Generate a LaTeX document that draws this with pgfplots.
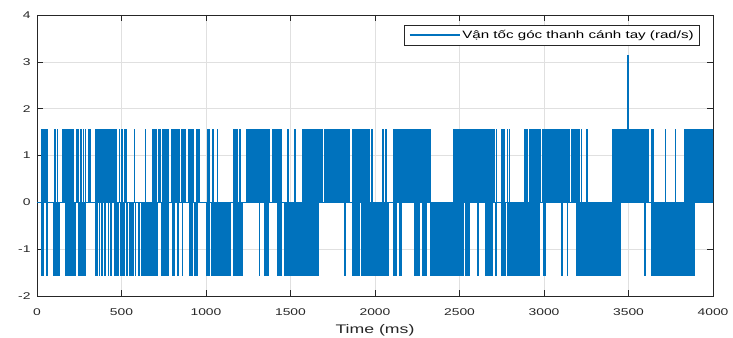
\documentclass[border=0pt]{standalone}
\usepackage{fontspec}
\setmainfont{Liberation Sans}[FakeStretch=1.42]
\usepackage{pgfplots}
\usepackage{pgfplotstable}
\pgfplotsset{compat=1.18}
\usetikzlibrary{calc}
\definecolor{mblue}{RGB}{0,114,189}
\definecolor{axc}{RGB}{38,38,38}

% positive spikes (+pi/2)
\pgfplotstableread[row sep=\\]{
t v\\
30 1.5708\\ 35 1.5708\\ 43 1.5708\\ 53 1.5708\\ 61 1.5708\\ 108 1.5708\\ 122 1.5708\\ 154 1.5708\\ 164 1.5708\\ 178 1.5708\\
187 1.5708\\ 197 1.5708\\ 207 1.5708\\ 217 1.5708\\ 233 1.5708\\ 244 1.5708\\ 262 1.5708\\ 276 1.5708\\ 286 1.5708\\ 306 1.5708\\ 316 1.5708\\
345 1.5708\\ 350 1.5708\\ 355 1.5708\\ 360 1.5708\\ 365 1.5708\\ 370 1.5708\\ 375 1.5708\\ 380 1.5708\\ 385 1.5708\\ 390 1.5708\\
395 1.5708\\ 400 1.5708\\ 405 1.5708\\ 410 1.5708\\ 415 1.5708\\ 420 1.5708\\ 425 1.5708\\ 430 1.5708\\ 435 1.5708\\ 440 1.5708\\
445 1.5708\\ 450 1.5708\\ 455 1.5708\\ 460 1.5708\\ 465 1.5708\\ 470 1.5708\\
489 1.5708\\ 503 1.5708\\ 517 1.5708\\ 528 1.5708\\ 576 1.5708\\ 641 1.5708\\
688 1.5708\\ 693 1.5708\\ 698 1.5708\\ 703 1.5708\\ 708 1.5708\\ 718 1.5708\\ 723 1.5708\\ 728 1.5708\\
744 1.5708\\ 749 1.5708\\ 754 1.5708\\ 759 1.5708\\ 764 1.5708\\ 769 1.5708\\ 774 1.5708\\
797 1.5708\\ 802 1.5708\\ 807 1.5708\\ 812 1.5708\\ 817 1.5708\\ 830 1.5708\\ 836 1.5708\\ 842 1.5708\\
856 1.5708\\ 861 1.5708\\ 866 1.5708\\ 871 1.5708\\ 876 1.5708\\ 901 1.5708\\ 907 1.5708\\ 913 1.5708\\ 919 1.5708\\ 925 1.5708\\
945 1.5708\\ 952 1.5708\\ 959 1.5708\\ 1008 1.5708\\ 1014 1.5708\\ 1020 1.5708\\ 1043 1.5708\\ 1069 1.5708\\
1162 1.5708\\ 1168 1.5708\\ 1174 1.5708\\ 1180 1.5708\\ 1185 1.5708\\ 1201 1.5708\\
1241 1.5708\\ 1246 1.5708\\ 1251 1.5708\\ 1256 1.5708\\ 1261 1.5708\\ 1266 1.5708\\ 1271 1.5708\\ 1276 1.5708\\ 1281 1.5708\\ 1286 1.5708\\
1291 1.5708\\ 1296 1.5708\\ 1301 1.5708\\ 1306 1.5708\\ 1311 1.5708\\ 1316 1.5708\\ 1321 1.5708\\ 1326 1.5708\\ 1331 1.5708\\ 1336 1.5708\\
1341 1.5708\\ 1346 1.5708\\ 1351 1.5708\\ 1356 1.5708\\ 1361 1.5708\\ 1366 1.5708\\ 1371 1.5708\\ 1376 1.5708\\
1396 1.5708\\ 1401 1.5708\\ 1406 1.5708\\ 1411 1.5708\\ 1416 1.5708\\ 1426 1.5708\\ 1431 1.5708\\ 1436 1.5708\\ 1441 1.5708\\ 1446 1.5708\\
1485 1.5708\\ 1525 1.5708\\ 1570 1.5708\\ 1575 1.5708\\ 1580 1.5708\\ 1584 1.5708\\ 1593 1.5708\\ 1598 1.5708\\ 1603 1.5708\\
1613 1.5708\\ 1618 1.5708\\ 1623 1.5708\\ 1628 1.5708\\ 1633 1.5708\\ 1638 1.5708\\ 1643 1.5708\\ 1648 1.5708\\ 1653 1.5708\\ 1658 1.5708\\
1663 1.5708\\ 1668 1.5708\\ 1673 1.5708\\ 1688 1.5708\\
1702 1.5708\\ 1707 1.5708\\ 1712 1.5708\\ 1717 1.5708\\ 1722 1.5708\\ 1727 1.5708\\ 1732 1.5708\\ 1737 1.5708\\ 1742 1.5708\\ 1747 1.5708\\
1752 1.5708\\ 1757 1.5708\\ 1762 1.5708\\ 1767 1.5708\\ 1772 1.5708\\ 1777 1.5708\\ 1782 1.5708\\ 1787 1.5708\\ 1792 1.5708\\ 1797 1.5708\\
1802 1.5708\\ 1807 1.5708\\ 1812 1.5708\\ 1817 1.5708\\ 1822 1.5708\\ 1827 1.5708\\ 1832 1.5708\\ 1837 1.5708\\ 1842 1.5708\\ 1847 1.5708\\ 1850 1.5708\\
1866 1.5708\\ 1873 1.5708\\ 1880 1.5708\\ 1889 1.5708\\ 1894 1.5708\\ 1899 1.5708\\ 1904 1.5708\\ 1909 1.5708\\ 1914 1.5708\\ 1919 1.5708\\
1929 1.5708\\ 1934 1.5708\\ 1939 1.5708\\ 1944 1.5708\\ 1949 1.5708\\ 1954 1.5708\\ 1959 1.5708\\ 1964 1.5708\\ 1968 1.5708\\ 1984 1.5708\\
2049 1.5708\\ 2065 1.5708\\
2114 1.5708\\ 2119 1.5708\\ 2124 1.5708\\ 2129 1.5708\\ 2134 1.5708\\ 2139 1.5708\\ 2144 1.5708\\ 2149 1.5708\\ 2154 1.5708\\ 2159 1.5708\\
2164 1.5708\\ 2169 1.5708\\ 2174 1.5708\\ 2179 1.5708\\ 2184 1.5708\\ 2189 1.5708\\ 2194 1.5708\\ 2199 1.5708\\ 2204 1.5708\\ 2209 1.5708\\
2214 1.5708\\ 2219 1.5708\\ 2224 1.5708\\ 2229 1.5708\\ 2234 1.5708\\ 2239 1.5708\\ 2244 1.5708\\ 2249 1.5708\\ 2254 1.5708\\ 2259 1.5708\\
2264 1.5708\\ 2269 1.5708\\ 2274 1.5708\\ 2279 1.5708\\ 2284 1.5708\\ 2289 1.5708\\ 2294 1.5708\\ 2299 1.5708\\ 2304 1.5708\\ 2309 1.5708\\
2314 1.5708\\ 2319 1.5708\\ 2324 1.5708\\ 2329 1.5708\\
2469 1.5708\\ 2474 1.5708\\ 2479 1.5708\\ 2484 1.5708\\ 2489 1.5708\\ 2494 1.5708\\ 2499 1.5708\\ 2504 1.5708\\ 2509 1.5708\\ 2514 1.5708\\
2519 1.5708\\ 2528 1.5708\\ 2533 1.5708\\ 2538 1.5708\\ 2543 1.5708\\ 2548 1.5708\\ 2553 1.5708\\ 2558 1.5708\\ 2563 1.5708\\ 2568 1.5708\\
2573 1.5708\\ 2578 1.5708\\ 2583 1.5708\\ 2588 1.5708\\ 2593 1.5708\\ 2598 1.5708\\ 2603 1.5708\\ 2608 1.5708\\ 2613 1.5708\\ 2618 1.5708\\
2623 1.5708\\ 2628 1.5708\\ 2633 1.5708\\ 2638 1.5708\\ 2643 1.5708\\ 2648 1.5708\\ 2653 1.5708\\ 2658 1.5708\\ 2663 1.5708\\ 2668 1.5708\\
2673 1.5708\\ 2678 1.5708\\ 2683 1.5708\\ 2688 1.5708\\ 2693 1.5708\\ 2698 1.5708\\ 2704 1.5708\\
2718 1.5708\\ 2753 1.5708\\ 2758 1.5708\\ 2763 1.5708\\ 2783 1.5708\\ 2797 1.5708\\ 2888 1.5708\\ 2894 1.5708\\ 2901 1.5708\\
2915 1.5708\\ 2920 1.5708\\ 2926 1.5708\\ 2931 1.5708\\ 2941 1.5708\\ 2946 1.5708\\ 2951 1.5708\\ 2956 1.5708\\ 2961 1.5708\\ 2966 1.5708\\
2971 1.5708\\ 2976 1.5708\\ 2980 1.5708\\
2994 1.5708\\ 2999 1.5708\\ 3004 1.5708\\ 3009 1.5708\\ 3014 1.5708\\ 3019 1.5708\\ 3024 1.5708\\ 3029 1.5708\\ 3034 1.5708\\ 3039 1.5708\\
3044 1.5708\\ 3049 1.5708\\ 3054 1.5708\\ 3059 1.5708\\ 3064 1.5708\\ 3069 1.5708\\ 3074 1.5708\\ 3079 1.5708\\ 3084 1.5708\\ 3089 1.5708\\
3094 1.5708\\ 3099 1.5708\\ 3104 1.5708\\ 3109 1.5708\\ 3114 1.5708\\ 3119 1.5708\\ 3124 1.5708\\ 3129 1.5708\\ 3134 1.5708\\ 3139 1.5708\\
3144 1.5708\\ 3148 1.5708\\
3167 1.5708\\ 3172 1.5708\\ 3177 1.5708\\ 3182 1.5708\\ 3187 1.5708\\ 3197 1.5708\\ 3202 1.5708\\ 3207 1.5708\\ 3223 1.5708\\ 3256 1.5708\\
3408 1.5708\\ 3413 1.5708\\ 3418 1.5708\\ 3423 1.5708\\ 3428 1.5708\\ 3433 1.5708\\ 3438 1.5708\\ 3443 1.5708\\ 3448 1.5708\\ 3453 1.5708\\
3458 1.5708\\ 3463 1.5708\\ 3468 1.5708\\ 3473 1.5708\\ 3478 1.5708\\ 3483 1.5708\\ 3488 1.5708\\ 3493 1.5708\\ 3497 3.1416\\
3502 1.5708\\ 3507 1.5708\\ 3512 1.5708\\ 3517 1.5708\\ 3522 1.5708\\ 3527 1.5708\\ 3532 1.5708\\ 3537 1.5708\\ 3542 1.5708\\ 3547 1.5708\\
3552 1.5708\\ 3557 1.5708\\ 3562 1.5708\\ 3567 1.5708\\ 3572 1.5708\\ 3577 1.5708\\ 3582 1.5708\\ 3587 1.5708\\ 3592 1.5708\\ 3597 1.5708\\
3602 1.5708\\ 3607 1.5708\\ 3612 1.5708\\ 3615 1.5708\\
3639 1.5708\\ 3644 1.5708\\ 3649 1.5708\\ 3718 1.5708\\ 3777 1.5708\\
3836 1.5708\\ 3841 1.5708\\ 3846 1.5708\\ 3851 1.5708\\ 3856 1.5708\\ 3861 1.5708\\ 3866 1.5708\\ 3871 1.5708\\ 3876 1.5708\\ 3881 1.5708\\
3886 1.5708\\ 3891 1.5708\\ 3896 1.5708\\ 3901 1.5708\\ 3906 1.5708\\ 3911 1.5708\\ 3916 1.5708\\ 3921 1.5708\\ 3926 1.5708\\ 3931 1.5708\\
3936 1.5708\\ 3941 1.5708\\ 3946 1.5708\\ 3951 1.5708\\ 3956 1.5708\\ 3961 1.5708\\ 3966 1.5708\\ 3971 1.5708\\ 3976 1.5708\\ 3981 1.5708\\
3986 1.5708\\ 3991 1.5708\\ 3996 1.5708\\ 4000 1.5708\\
}\posdata

% negative spikes (-pi/2)
\pgfplotstableread[row sep=\\]{
t v\\
30 -1.5708\\ 39 -1.5708\\ 59 -1.5708\\ 102 -1.5708\\ 107 -1.5708\\ 112 -1.5708\\ 117 -1.5708\\ 122 -1.5708\\ 127 -1.5708\\ 132 -1.5708\\
168 -1.5708\\ 173 -1.5708\\ 178 -1.5708\\ 183 -1.5708\\ 188 -1.5708\\ 193 -1.5708\\ 198 -1.5708\\ 203 -1.5708\\ 208 -1.5708\\ 213 -1.5708\\
218 -1.5708\\ 223 -1.5708\\ 227 -1.5708\\ 247 -1.5708\\ 252 -1.5708\\ 257 -1.5708\\ 262 -1.5708\\ 267 -1.5708\\ 272 -1.5708\\ 277 -1.5708\\
282 -1.5708\\ 286 -1.5708\\ 345 -1.5708\\ 355 -1.5708\\ 371 -1.5708\\ 385 -1.5708\\ 404 -1.5708\\ 424 -1.5708\\ 438 -1.5708\\
463 -1.5708\\ 468 -1.5708\\ 473 -1.5708\\ 478 -1.5708\\ 483 -1.5708\\ 493 -1.5708\\ 498 -1.5708\\ 503 -1.5708\\ 509 -1.5708\\ 517 -1.5708\\
533 -1.5708\\ 548 -1.5708\\ 553 -1.5708\\ 558 -1.5708\\ 563 -1.5708\\ 568 -1.5708\\ 572 -1.5708\\ 582 -1.5708\\ 602 -1.5708\\
621 -1.5708\\ 626 -1.5708\\ 631 -1.5708\\ 636 -1.5708\\ 641 -1.5708\\ 646 -1.5708\\ 651 -1.5708\\ 657 -1.5708\\
669 -1.5708\\ 674 -1.5708\\ 679 -1.5708\\ 684 -1.5708\\ 688 -1.5708\\ 698 -1.5708\\ 703 -1.5708\\ 708 -1.5708\\ 712 -1.5708\\
738 -1.5708\\ 743 -1.5708\\ 748 -1.5708\\ 753 -1.5708\\ 758 -1.5708\\ 763 -1.5708\\ 768 -1.5708\\ 773 -1.5708\\ 777 -1.5708\\
801 -1.5708\\ 806 -1.5708\\ 812 -1.5708\\ 836 -1.5708\\ 860 -1.5708\\ 905 -1.5708\\ 912 -1.5708\\ 919 -1.5708\\ 931 -1.5708\\ 938 -1.5708\\
945 -1.5708\\ 1004 -1.5708\\ 1010 -1.5708\\ 1016 -1.5708\\ 1020 -1.5708\\
1034 -1.5708\\ 1039 -1.5708\\ 1044 -1.5708\\ 1049 -1.5708\\ 1054 -1.5708\\ 1059 -1.5708\\ 1064 -1.5708\\ 1069 -1.5708\\ 1074 -1.5708\\
1079 -1.5708\\ 1084 -1.5708\\ 1089 -1.5708\\ 1094 -1.5708\\ 1099 -1.5708\\ 1104 -1.5708\\ 1109 -1.5708\\ 1112 -1.5708\\
1122 -1.5708\\ 1127 -1.5708\\ 1132 -1.5708\\ 1137 -1.5708\\ 1142 -1.5708\\ 1162 -1.5708\\ 1167 -1.5708\\ 1172 -1.5708\\ 1177 -1.5708\\
1182 -1.5708\\ 1197 -1.5708\\ 1202 -1.5708\\ 1207 -1.5708\\ 1212 -1.5708\\ 1217 -1.5708\\ 1316 -1.5708\\
1347 -1.5708\\ 1352 -1.5708\\ 1357 -1.5708\\ 1362 -1.5708\\ 1367 -1.5708\\ 1426 -1.5708\\ 1431 -1.5708\\ 1436 -1.5708\\ 1441 -1.5708\\ 1446 -1.5708\\
1466 -1.5708\\ 1471 -1.5708\\ 1476 -1.5708\\ 1481 -1.5708\\ 1486 -1.5708\\ 1491 -1.5708\\ 1496 -1.5708\\ 1501 -1.5708\\ 1506 -1.5708\\ 1511 -1.5708\\
1516 -1.5708\\ 1521 -1.5708\\ 1526 -1.5708\\ 1531 -1.5708\\ 1536 -1.5708\\ 1541 -1.5708\\ 1546 -1.5708\\ 1551 -1.5708\\ 1556 -1.5708\\ 1561 -1.5708\\
1566 -1.5708\\ 1571 -1.5708\\ 1576 -1.5708\\ 1581 -1.5708\\ 1586 -1.5708\\ 1591 -1.5708\\ 1596 -1.5708\\ 1601 -1.5708\\ 1606 -1.5708\\ 1611 -1.5708\\
1616 -1.5708\\ 1621 -1.5708\\ 1626 -1.5708\\ 1631 -1.5708\\ 1636 -1.5708\\ 1641 -1.5708\\ 1646 -1.5708\\ 1651 -1.5708\\ 1656 -1.5708\\ 1661 -1.5708\\
1663 -1.5708\\ 1821 -1.5708\\ 1870 -1.5708\\ 1875 -1.5708\\ 1880 -1.5708\\ 1885 -1.5708\\ 1889 -1.5708\\ 1899 -1.5708\\ 1904 -1.5708\\ 1909 -1.5708\\
1919 -1.5708\\ 1924 -1.5708\\ 1929 -1.5708\\ 1934 -1.5708\\ 1939 -1.5708\\ 1944 -1.5708\\ 1949 -1.5708\\ 1954 -1.5708\\ 1959 -1.5708\\ 1964 -1.5708\\
1969 -1.5708\\ 1974 -1.5708\\ 1979 -1.5708\\ 1984 -1.5708\\ 1989 -1.5708\\ 1994 -1.5708\\ 1999 -1.5708\\ 2004 -1.5708\\ 2009 -1.5708\\ 2014 -1.5708\\
2019 -1.5708\\ 2024 -1.5708\\ 2029 -1.5708\\ 2034 -1.5708\\ 2039 -1.5708\\ 2044 -1.5708\\ 2049 -1.5708\\ 2054 -1.5708\\ 2059 -1.5708\\ 2064 -1.5708\\
2069 -1.5708\\ 2074 -1.5708\\ 2079 -1.5708\\
2114 -1.5708\\ 2121 -1.5708\\ 2128 -1.5708\\ 2144 -1.5708\\ 2149 -1.5708\\ 2154 -1.5708\\ 2238 -1.5708\\ 2244 -1.5708\\ 2250 -1.5708\\ 2256 -1.5708\\
2262 -1.5708\\ 2282 -1.5708\\ 2287 -1.5708\\ 2292 -1.5708\\ 2297 -1.5708\\ 2302 -1.5708\\
2331 -1.5708\\ 2336 -1.5708\\ 2341 -1.5708\\ 2346 -1.5708\\ 2351 -1.5708\\ 2356 -1.5708\\ 2361 -1.5708\\ 2366 -1.5708\\ 2371 -1.5708\\ 2376 -1.5708\\
2381 -1.5708\\ 2386 -1.5708\\ 2391 -1.5708\\ 2396 -1.5708\\ 2401 -1.5708\\ 2406 -1.5708\\ 2411 -1.5708\\ 2416 -1.5708\\ 2421 -1.5708\\ 2426 -1.5708\\
2431 -1.5708\\ 2436 -1.5708\\ 2441 -1.5708\\ 2446 -1.5708\\ 2451 -1.5708\\ 2456 -1.5708\\ 2461 -1.5708\\ 2466 -1.5708\\ 2471 -1.5708\\ 2476 -1.5708\\
2481 -1.5708\\ 2486 -1.5708\\ 2491 -1.5708\\ 2496 -1.5708\\ 2501 -1.5708\\ 2506 -1.5708\\ 2511 -1.5708\\ 2516 -1.5708\\ 2519 -1.5708\\
2538 -1.5708\\ 2543 -1.5708\\ 2548 -1.5708\\ 2553 -1.5708\\ 2558 -1.5708\\ 2608 -1.5708\\ 2657 -1.5708\\ 2663 -1.5708\\ 2669 -1.5708\\ 2675 -1.5708\\
2680 -1.5708\\ 2684 -1.5708\\ 2694 -1.5708\\ 2712 -1.5708\\ 2720 -1.5708\\ 2753 -1.5708\\ 2758 -1.5708\\ 2763 -1.5708\\ 2768 -1.5708\\ 2773 -1.5708\\
2783 -1.5708\\ 2788 -1.5708\\ 2793 -1.5708\\ 2798 -1.5708\\ 2803 -1.5708\\ 2808 -1.5708\\ 2813 -1.5708\\ 2818 -1.5708\\ 2823 -1.5708\\ 2828 -1.5708\\
2833 -1.5708\\ 2838 -1.5708\\ 2843 -1.5708\\ 2848 -1.5708\\ 2853 -1.5708\\ 2858 -1.5708\\ 2862 -1.5708\\ 2869 -1.5708\\ 2876 -1.5708\\ 2883 -1.5708\\
2890 -1.5708\\ 2897 -1.5708\\ 2904 -1.5708\\ 2911 -1.5708\\ 2918 -1.5708\\ 2925 -1.5708\\ 2931 -1.5708\\ 2937 -1.5708\\ 2943 -1.5708\\ 2949 -1.5708\\
2955 -1.5708\\ 2961 -1.5708\\ 2967 -1.5708\\ 2970 -1.5708\\ 3000 -1.5708\\ 3005 -1.5708\\ 3010 -1.5708\\ 3108 -1.5708\\ 3138 -1.5708\\
3197 -1.5708\\ 3202 -1.5708\\ 3207 -1.5708\\ 3212 -1.5708\\ 3217 -1.5708\\ 3222 -1.5708\\ 3227 -1.5708\\ 3232 -1.5708\\ 3237 -1.5708\\ 3242 -1.5708\\
3247 -1.5708\\ 3252 -1.5708\\ 3257 -1.5708\\ 3262 -1.5708\\ 3267 -1.5708\\ 3272 -1.5708\\ 3277 -1.5708\\ 3282 -1.5708\\ 3287 -1.5708\\ 3292 -1.5708\\
3297 -1.5708\\ 3302 -1.5708\\ 3307 -1.5708\\ 3312 -1.5708\\ 3317 -1.5708\\ 3322 -1.5708\\ 3327 -1.5708\\ 3332 -1.5708\\ 3337 -1.5708\\ 3342 -1.5708\\
3347 -1.5708\\ 3352 -1.5708\\ 3357 -1.5708\\ 3362 -1.5708\\ 3367 -1.5708\\ 3372 -1.5708\\ 3377 -1.5708\\ 3382 -1.5708\\ 3387 -1.5708\\ 3392 -1.5708\\
3397 -1.5708\\ 3402 -1.5708\\ 3407 -1.5708\\ 3412 -1.5708\\ 3417 -1.5708\\ 3422 -1.5708\\ 3432 -1.5708\\ 3437 -1.5708\\ 3442 -1.5708\\ 3447 -1.5708\\
3451 -1.5708\\ 3599 -1.5708\\
3635 -1.5708\\ 3640 -1.5708\\ 3645 -1.5708\\ 3650 -1.5708\\ 3655 -1.5708\\ 3660 -1.5708\\ 3665 -1.5708\\ 3670 -1.5708\\ 3675 -1.5708\\ 3680 -1.5708\\
3685 -1.5708\\ 3690 -1.5708\\ 3695 -1.5708\\ 3700 -1.5708\\ 3705 -1.5708\\ 3710 -1.5708\\ 3715 -1.5708\\ 3720 -1.5708\\ 3725 -1.5708\\ 3730 -1.5708\\
3735 -1.5708\\ 3740 -1.5708\\ 3745 -1.5708\\ 3750 -1.5708\\ 3755 -1.5708\\ 3760 -1.5708\\ 3765 -1.5708\\ 3770 -1.5708\\ 3775 -1.5708\\ 3780 -1.5708\\
3785 -1.5708\\ 3790 -1.5708\\ 3795 -1.5708\\ 3800 -1.5708\\ 3805 -1.5708\\ 3810 -1.5708\\ 3815 -1.5708\\ 3820 -1.5708\\ 3825 -1.5708\\ 3830 -1.5708\\
3835 -1.5708\\ 3840 -1.5708\\ 3845 -1.5708\\ 3850 -1.5708\\ 3855 -1.5708\\ 3860 -1.5708\\ 3865 -1.5708\\ 3870 -1.5708\\ 3875 -1.5708\\ 3880 -1.5708\\
3886 -1.5708\\
}\negdata

\begin{document}
\begin{tikzpicture}
\begin{axis}[
  scale only axis, width=676bp, height=281bp,
  xmin=0, xmax=4000, ymin=-2, ymax=4,
  xtick={0,500,...,4000}, ytick={-2,-1,...,4},
  tick align=inside, major tick length=6bp,
  axis line style={axc, line width=0.6bp},
  tick style={axc, line width=0.6bp},
  grid=major, major grid style={black!12, line width=0.6bp},
  /pgf/number format/assume math mode=true,
  /pgf/number format/1000 sep={},
  ticklabel style={font=\fontsize{9.8}{11}\selectfont, text=axc},
  xticklabel style={yshift=-9bp},
  yticklabel style={xshift=-3bp},
  xlabel={Time (ms)},
  xlabel style={font=\fontsize{12.5}{14}\selectfont, text=axc, yshift=-2bp},
  legend cell align=left,
  legend style={at={(0.9808,0.9644)}, anchor=north east, draw=axc,
    line width=0.6bp, font=\fontsize{10.7}{12}\selectfont,
    inner xsep=4bp, inner ysep=3bp},
  legend image code/.code={\draw[mblue, line width=1.6bp] (0bp,0bp) -- (50bp,0bp);},
]
\addplot[mblue, line width=1.6bp] coordinates {(0,0) (4000,0)};
\addlegendentry{Vận tốc góc thanh cánh tay (rad/s)}
\addplot[draw=mblue, line width=1.6bp, ycomb, forget plot] table[x=t, y=v] {\posdata};
\addplot[draw=mblue, line width=1.6bp, ycomb, forget plot] table[x=t, y=v] {\negdata};
\coordinate (bl) at (rel axis cs:0,0);
\coordinate (tr) at (rel axis cs:1,1);
\end{axis}
\pgfresetboundingbox
\path ($(bl)+(-37bp,-42bp)$) rectangle ($(tr)+(20bp,15bp)$);
\end{tikzpicture}
\end{document}
